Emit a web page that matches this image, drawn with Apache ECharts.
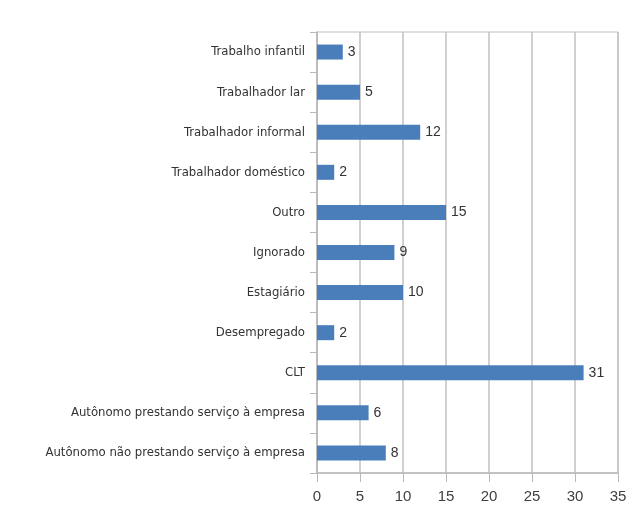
<!DOCTYPE html>
<html><head><meta charset="utf-8">
<script src="https://cdn.jsdelivr.net/npm/echarts@6/dist/echarts.min.js"></script>
<style>html,body{margin:0;padding:0;background:#fff}#c{width:643px;height:527px}</style>
</head><body><div id="c"></div>
<script>
const categories = [
  "Autônomo não prestando serviço à empresa",
  "Autônomo prestando serviço à empresa",
  "CLT",
  "Desempregado",
  "Estagiário",
  "Ignorado",
  "Outro",
  "Trabalhador doméstico",
  "Trabalhador informal",
  "Trabalhador lar",
  "Trabalho infantil"
];
const values = [8, 6, 31, 2, 10, 9, 15, 2, 12, 5, 3];
const xTicks = [0, 5, 10, 15, 20, 25, 30, 35];

const narrow = "'DejaVu Sans Condensed', 'Liberation Sans Narrow', sans-serif";
const regular = "'Liberation Sans', Arial, sans-serif";
const chart = echarts.init(document.getElementById('c'));
chart.setOption({
  animation: false,
  grid: { left: 317, right: 25, top: 32, bottom: 54, show: true, borderColor: '#c0c0c0', borderWidth: 1 },
  xAxis: {
    type: 'value', min: xTicks[0], max: xTicks[xTicks.length - 1], interval: 5,
    axisLine: { show: true, lineStyle: { color: '#b8b8b8', width: 1.5 } },
    axisTick: { show: true, length: 9, lineStyle: { color: '#b8b8b8' } },
    splitLine: { show: true, lineStyle: { color: '#c0c0c0', width: 1.5 } },
    axisLabel: { color: '#404040', fontSize: 15, fontFamily: regular, margin: 16 }
  },
  yAxis: {
    type: 'category', data: categories,
    axisLine: { show: true, lineStyle: { color: '#b8b8b8', width: 1.5 } },
    axisTick: { show: true, length: 7, inside: false, lineStyle: { color: '#b8b8b8' } },
    axisLabel: { color: '#333', fontSize: 13, fontFamily: narrow, margin: 12, padding: [0, 0, 4, 0] }
  },
  series: [{
    type: 'bar', data: values, barWidth: 15,
    itemStyle: { color: '#4a7ebb' },
    label: { show: true, position: 'right', distance: 5, color: '#333', fontSize: 14, fontFamily: regular }
  }]
});
</script></body></html>
